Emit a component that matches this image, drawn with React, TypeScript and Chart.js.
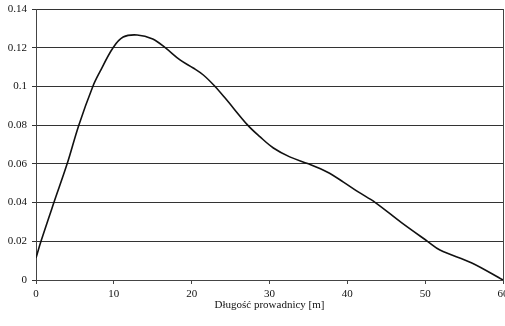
import React, { useEffect, useRef } from "react";
import { Chart, registerables } from "chart.js";

Chart.register(...registerables);

// Curve samples (x in metres, y value)
const xValues = [0, 0.64, 2.3, 4.0, 5.5, 7.3, 8.2, 9.9, 11.2, 13.0, 15.0, 16.6, 18.5, 20.2, 21.5, 23.0, 24.3, 27.2, 28.8, 30.5, 32.6, 35.0, 37.4, 39.5, 41.4, 43.6, 47.0, 50.3, 51.9, 56.0, 60.0];
const yValues = [0.0114, 0.02, 0.04, 0.06, 0.08, 0.10, 0.1075, 0.12, 0.1255, 0.1266, 0.1245, 0.12, 0.1137, 0.1095, 0.1059, 0.10, 0.094, 0.08, 0.0739, 0.0682, 0.0636, 0.06, 0.0558, 0.0506, 0.0455, 0.04, 0.0295, 0.02, 0.0155, 0.0088, 0.0];

const xTicks = [0, 10, 20, 30, 40, 50, 60];
const yMin = 0;
const yMax = 0.14;
const yStep = 0.02;
const xTitle = "Długość prowadnicy [m]";

const FONT = "'Liberation Serif', 'Times New Roman', serif";

export default function App() {
  const ref = useRef<HTMLCanvasElement | null>(null);

  useEffect(() => {
    if (!ref.current) return;
    const frame = {
      id: "rightFrame",
      afterDatasetsDraw(chart: any) {
        const { ctx, chartArea } = chart;
        ctx.save();
        ctx.strokeStyle = "#444";
        ctx.lineWidth = 1;
        ctx.beginPath();
        ctx.moveTo(Math.round(chartArea.right) + 0.5, chartArea.top);
        ctx.lineTo(Math.round(chartArea.right) + 0.5, chartArea.bottom);
        ctx.stroke();
        ctx.restore();
      },
    };
    const chart = new Chart(ref.current, {
      type: "line",
      data: {
        datasets: [
          {
            data: xValues.map((x, i) => ({ x, y: yValues[i] })),
            borderColor: "#111",
            borderWidth: 1.6,
            pointRadius: 0,
            tension: 0.35,
            fill: false,
          },
        ],
      },
      options: {
        animation: false,
        responsive: false,
        maintainAspectRatio: false,
        layout: { padding: { top: 9, right: 2, bottom: 0, left: 0 } },
        plugins: { legend: { display: false }, tooltip: { enabled: false } },
        scales: {
          x: {
            type: "linear",
            min: 0,
            max: 60,
            afterBuildTicks: (s: any) => {
              s.ticks = xTicks.map((v) => ({ value: v }));
            },
            afterFit: (s: any) => {
              s.height = 46;
              s.paddingLeft = 0;
              s.paddingRight = 0;
            },
            grid: {
              drawOnChartArea: false,
              drawTicks: true,
              tickLength: 4,
              color: "#444",
            },
            border: { display: true, color: "#444", width: 1 },
            ticks: {
              color: "#111",
              padding: 4,
              font: { family: FONT, size: 11 },
              maxRotation: 0,
            },
            title: {
              display: true,
              text: xTitle,
              color: "#111",
              font: { family: FONT, size: 11 },
              padding: { top: 2, bottom: 14 },
            },
          },
          y: {
            type: "linear",
            min: yMin,
            max: yMax,
            afterFit: (s: any) => {
              s.width = 36;
              s.paddingTop = 0;
              s.paddingBottom = 0;
            },
            ticks: {
              stepSize: yStep,
              color: "#111",
              padding: 5,
              font: { family: FONT, size: 11 },
              callback: (v: any) => String(Number(Number(v).toFixed(2))),
            },
            grid: {
              color: "#333",
              lineWidth: 1,
              drawTicks: true,
              tickLength: 4,
            },
            border: { display: true, color: "#444", width: 1 },
          },
        },
      },
      plugins: [frame],
    });
    return () => chart.destroy();
  }, []);

  return (
    <div style={{ position: "fixed", left: 0, top: 0, width: 505, height: 326, background: "#fff" }}>
      <canvas ref={ref} width={505} height={326} style={{ display: "block" }} />
    </div>
  );
}
